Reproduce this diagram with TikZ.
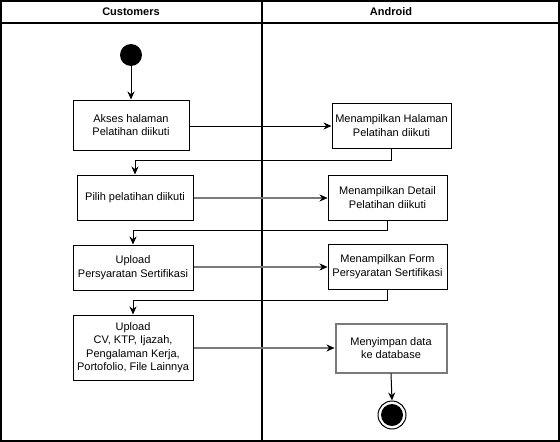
\documentclass[tikz,border=0pt]{standalone}
\usepackage{fontspec}
\setmainfont{Liberation Sans}
\usetikzlibrary{arrows.meta,calc}
\definecolor{lgray}{HTML}{7A7A7A}
\begin{document}
\begin{tikzpicture}[x=1pt,y=-1pt,
  act/.style={draw=black,line width=1pt,fill=white,align=center,inner sep=1pt,font=\fontsize{11}{13.5}\selectfont},
  flow/.style={line width=1pt,-{Stealth[length=8pt,width=7pt]}},
  gflow/.style={draw=lgray,line width=1.5pt,-{Stealth[length=8pt,width=7pt,color=black,line width=0.5pt]}},
  lane/.style={line width=2pt},
  hdr/.style={font=\fontsize{11}{13}\selectfont\bfseries}]
\useasboundingbox (0,0) rectangle (560,442);
% swimlanes
\draw[lane] (1,1) rectangle (559,441);
\draw[lane] (1,23) -- (559,23);
\draw[lane] (261.5,1) -- (261.5,441);
\node[hdr] (hc) at (131,12) {Customers};
\node[hdr] (ha) at (391,12) {Android};
% nodes
\node[circle,fill=black,minimum size=22pt,inner sep=0pt] (start) at (131,55) {};
\node[act,minimum width=116pt,minimum height=50pt] (b1) at (131,125) {Akses halaman\\Pelatihan diikuti};
\node[act,minimum width=119pt,minimum height=45pt] (a1) at (391.5,125.5) {Menampilkan Halaman\\Pelatihan diikuti};
\node[act,minimum width=116pt,minimum height=45pt] (b2) at (135,197.5) {Pilih pelatihan diikuti};
\node[act,minimum width=119pt,minimum height=45pt] (a2) at (387.5,197.5) {Menampilkan Detail\\Pelatihan diikuti};
\node[act,minimum width=120pt,minimum height=45pt] (b3) at (133,267.5) {Upload\\Persyaratan Sertifikasi};
\node[act,minimum width=119pt,minimum height=45pt] (a3) at (387.5,266.5) {Menampilkan Form\\Persyaratan Sertifikasi};
\node[act,minimum width=120pt,minimum height=65pt] (b4) at (133,347.5) {Upload\\CV, KTP, Ijazah,\\Pengalaman Kerja,\\Portofolio, File Lainnya};
\node[act,draw=lgray,line width=2pt,minimum width=111pt,minimum height=49pt] (a4) at (391,348) {Menyimpan data\\ke database};
\node[circle,draw=black,line width=1pt,minimum size=28pt,inner sep=0pt] (end) at (392,415) {};
\node[circle,fill=black,minimum size=22pt,inner sep=0pt] (endin) at (end.center) {};
% connectors
\draw[flow] (start) -- (b1);
\draw[flow] (b1.east |- 0,126) -- (a1.west |- 0,126);
\draw[flow] (a1.south) -- ++(0,12) -| (b2.north);
\draw[gflow] (b2.east |- 0,198) -- (a2.west |- 0,198);
\draw[flow] (a2.south) -- ++(0,10) -| (b3.north);
\draw[gflow] (b3.east |- 0,267) -- (a3.west |- 0,267);
\draw[flow] (a3.south) -- ++(0,11) -| (b4.north);
\draw[gflow] (b4.east |- 0,348) -- (a4.west |- 0,348);
\draw[flow] (a4.south) -- (end.north);
\end{tikzpicture}
\end{document}
